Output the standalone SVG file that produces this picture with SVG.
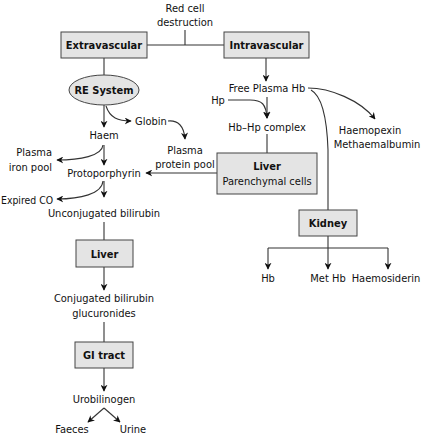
<svg xmlns="http://www.w3.org/2000/svg" width="421" height="437" viewBox="0 0 421 437">
<style>
text{font-family:"DejaVu Sans Condensed","DejaVu Sans","Liberation Sans",sans-serif;font-stretch:condensed;font-size:11px;fill:#111;text-anchor:middle}
.b{font-weight:bold}
.e{text-anchor:end}
.box{fill:#e4e4e4;stroke:#444;stroke-width:1}
.c{fill:none;stroke:#333;stroke-width:1.1}
.a{marker-end:url(#ah)}
</style>
<defs>
<marker id="ah" viewBox="0 0 10 10" refX="9" refY="5" markerWidth="7" markerHeight="7" markerUnits="userSpaceOnUse" orient="auto">
<path d="M0,0 L10,5 L0,10 L3,5 Z" fill="#111"/>
</marker>
</defs>
<g id="connectors">
<path class="c" d="M147,45 H224 M185,30 V45"/>
<path class="c" d="M104,58 V75"/>
<path class="c a" d="M104,105 V127"/>
<path class="c a" d="M106,106 C110,118 118,121 131,121"/>
<path class="c a" d="M168,121 C178,120 184,126 185,139"/>
<path class="c a" d="M103,145 C102,156 80,160 57,160"/>
<path class="c a" d="M104,145 V165"/>
<path class="c a" d="M217,173 H146"/>
<path class="c a" d="M103,181 C102,194 80,199 57,199"/>
<path class="c a" d="M104,181 V197"/>
<path class="c" d="M104,222 V240"/>
<path class="c a" d="M104,267 V290"/>
<path class="c" d="M104,322 V342"/>
<path class="c a" d="M104,368 V391"/>
<path class="c a" d="M104,408 L88,422"/>
<path class="c a" d="M104,408 L120,422"/>
<path class="c a" d="M266,58 V81"/>
<path class="c a" d="M267,97 V118"/>
<path class="c a" d="M228,100 H250 C262,100 266,104 267,118"/>
<path class="c" d="M267,134 V153"/>
<path class="c a" d="M308,88 C330,88 360,100 375,119"/>
<path class="c" d="M311,90 C322,96 327,120 328,150 V210"/>
<path class="c" d="M328,236 V248 M268,248 H388"/>
<path class="c a" d="M268,248 V269"/>
<path class="c a" d="M328,248 V269"/>
<path class="c a" d="M388,248 V269"/>
</g>
<g id="red-cell"><text x="185" y="12">Red cell</text><text x="185" y="26">destruction</text></g>
<g id="extravascular"><rect class="box" x="61" y="32" width="86" height="26"/><text class="b" x="104" y="49">Extravascular</text></g>
<g id="intravascular"><rect class="box" x="224" y="32" width="85" height="26"/><text class="b" x="266.5" y="49">Intravascular</text></g>
<g id="re-system"><ellipse class="box" cx="104" cy="90" rx="35" ry="15"/><text class="b" x="104" y="94">RE System</text></g>
<g id="globin"><text x="151" y="125">Globin</text></g>
<g id="haem"><text x="104" y="139">Haem</text></g>
<g id="plasma-protein-pool"><text x="185" y="154">Plasma</text><text x="185" y="168">protein pool</text></g>
<g id="plasma-iron-pool"><text class="e" x="52" y="156">Plasma</text><text class="e" x="52" y="171">iron pool</text></g>
<g id="protoporphyrin"><text x="104" y="177">Protoporphyrin</text></g>
<g id="expired-co"><text class="e" x="53" y="204" textLength="52" lengthAdjust="spacingAndGlyphs">Expired CO</text></g>
<g id="unconjugated"><text x="104" y="217">Unconjugated bilirubin</text></g>
<g id="liver"><rect class="box" x="76" y="240" width="57" height="27"/><text class="b" x="104.5" y="258">Liver</text></g>
<g id="conjugated"><text x="104" y="302">Conjugated bilirubin</text><text x="104" y="317">glucuronides</text></g>
<g id="gi-tract"><rect class="box" x="75" y="342" width="58" height="26"/><text class="b" x="104" y="359">GI tract</text></g>
<g id="urobilinogen"><text x="104" y="403">Urobilinogen</text></g>
<g id="faeces"><text x="72" y="433">Faeces</text></g>
<g id="urine"><text x="133" y="433">Urine</text></g>
<g id="free-plasma-hb"><text x="267" y="92">Free Plasma Hb</text></g>
<g id="hp"><text x="218" y="104">Hp</text></g>
<g id="hb-hp"><text x="267" y="131">Hb–Hp complex</text></g>
<g id="haemopexin"><text x="370" y="134">Haemopexin</text><text x="377" y="148">Methaemalbumin</text></g>
<g id="liver-parenchymal"><rect class="box" x="217" y="153" width="100" height="41"/><text class="b" x="267" y="170">Liver</text><text x="267" y="185">Parenchymal cells</text></g>
<g id="kidney"><rect class="box" x="299" y="210" width="58" height="26"/><text class="b" x="328" y="227">Kidney</text></g>
<g id="hb"><text x="268" y="282">Hb</text></g>
<g id="met-hb"><text x="328" y="282">Met Hb</text></g>
<g id="haemosiderin"><text x="386" y="282">Haemosiderin</text></g>
</svg>
